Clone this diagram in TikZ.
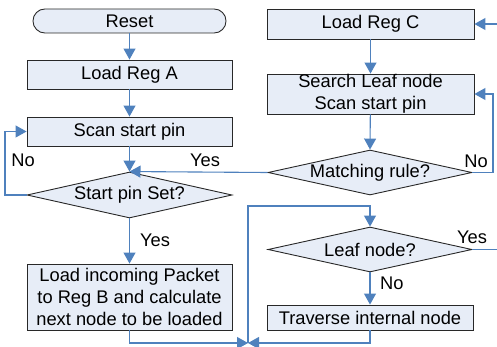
\documentclass[tikz,border=0pt]{standalone}
\usepackage{fontspec}
\setmainfont{Liberation Sans}
\usetikzlibrary{shapes.geometric,arrows.meta}
\definecolor{boxfill}{RGB}{231,237,247}
\definecolor{boxline}{RGB}{40,40,40}
\definecolor{flow}{RGB}{79,129,189}
\begin{document}
\begin{tikzpicture}[x=1pt,y=-1pt,
  every node/.style={font=\fontsize{18.3}{22}\selectfont},
  procbox/.style={draw=boxline,fill=boxfill,line width=0.9pt,inner sep=0pt,align=center},
  decbox/.style={diamond,draw=boxline,fill=boxfill,line width=0.9pt,inner sep=0pt,aspect=4.4},
  flowline/.style={draw=flow,line width=1.1pt},
  flowarrow/.style={flowline,-{Triangle[length=11pt,width=12pt]}},
  lbl/.style={inner sep=0pt}
]
\useasboundingbox (0,0) rectangle (497,347);
% left column
\node[procbox,rounded corners=11.9pt,minimum width=193pt,minimum height=24pt] (reset) at (129.5,21) {Reset};
\node[procbox,minimum width=205pt,minimum height=29pt] (loadA) at (129.5,74.5) {Load Reg A};
\node[procbox,minimum width=205pt,minimum height=29pt] (scan) at (129.5,131.5) {Scan start pin};
\node[decbox,minimum width=205pt,minimum height=46pt] (startset) at (129.5,195) {Start pin Set?};
\node[procbox,minimum width=205pt,minimum height=66pt] (loadpkt) at (129.5,297) {Load incoming Packet\\to Reg B and calculate\\next node to be loaded};
% right column
\node[procbox,minimum width=207pt,minimum height=30pt] (loadC) at (370.5,24) {Load Reg C};
\node[procbox,minimum width=207pt,minimum height=40pt] (search) at (370.5,94) {Search Leaf node\\Scan start pin};
\node[decbox,minimum width=204pt,minimum height=45pt] (match) at (370,172.5) {Matching rule?};
\node[decbox,minimum width=204pt,minimum height=45pt] (leaf) at (370,249.5) {Leaf node?};
\node[procbox,minimum width=206pt,minimum height=25pt] (traverse) at (370,317.5) {Traverse internal node};
% coordinates
\coordinate (noL) at (5,195);
\coordinate (noLt) at (5,131.5);
\coordinate (noR) at (493,172.5);
\coordinate (noRt) at (493,94);
\coordinate (yesR) at (497,249.5);
\coordinate (inC) at (497,24);
\coordinate (pktc) at (129.5,343);
\coordinate (trc) at (370,343);
\coordinate (junc) at (248,343);
\coordinate (junct) at (248,206);
\coordinate (leaft) at (370,206);
% connectors
\draw[flowarrow] (reset) -- (loadA);
\draw[flowarrow] (loadA) -- (scan);
\draw[flowarrow] (scan) -- (startset.north);
\draw[flowarrow] (startset) -- (loadpkt);
\draw[flowarrow] (startset.west) -- (noL) -- (noLt) -- (scan.west);
\draw[flowarrow] (match.west) -- (startset.north);
\draw[flowarrow] (loadC) -- (search);
\draw[flowarrow] (search) -- (match.north);
\draw[flowarrow] (match.east) -- (noR) -- (noRt) -- (search.east);
\draw[flowarrow] (leaf) -- (traverse);
\draw[flowline] (leaf.east) -- (yesR);
\draw[flowarrow] (inC) -- (loadC.east);
\draw[flowarrow] (loadpkt.south) -- (pktc) -- (junc);
\draw[flowarrow] (traverse.south) -- (trc) -- (junc);
\draw[flowarrow] (junc) -- (junct) -- (leaft) -- (leaf.north);
% labels
\node[lbl] (lno1) at (23,160) {No};
\node[lbl] (lyes1) at (205,160) {Yes};
\node[lbl,anchor=west] (lyes2) at (140,240) {Yes};
\node[lbl] (lno2) at (476,161) {No};
\node[lbl] (lyes3) at (472,237) {Yes};
\node[lbl,anchor=west] (lno3) at (380,283) {No};
\end{tikzpicture}
\end{document}
